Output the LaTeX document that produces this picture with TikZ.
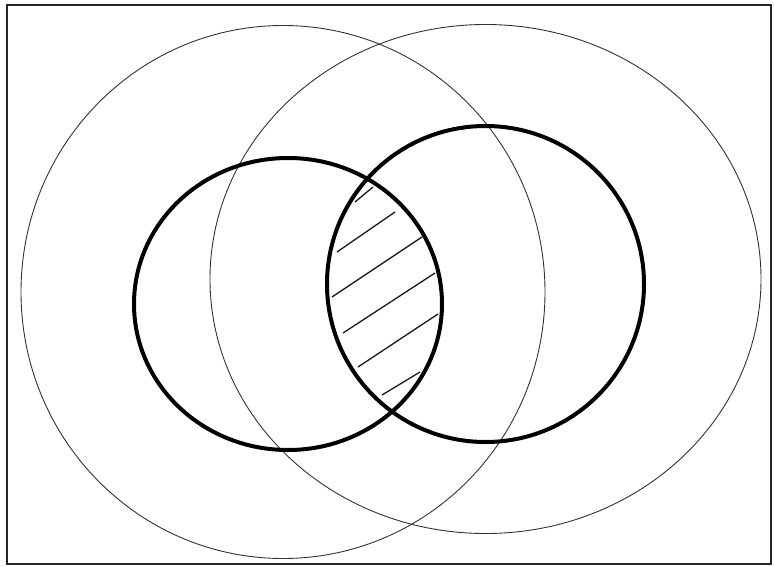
\documentclass[tikz,border=0pt]{standalone}
\begin{document}
\begin{tikzpicture}[x=1pt,y=-1pt,
  thinring/.style={draw=black!80,line width=0.9pt},
  thickring/.style={draw=black,line width=4pt},
  hatchline/.style={draw=black!90,line width=1.3pt},
  frame/.style={draw=black!85,line width=1.6pt}]
\useasboundingbox (0,0) rectangle (774,566);
\fill[white] (0,0) rectangle (774,566);
\draw[frame] (7,5) rectangle (771,564);
% large thin rings
\draw[thinring] (283,292) ellipse [x radius=262, y radius=266.5];
\draw[thinring] (485.5,279) ellipse [x radius=275.5, y radius=254.5];
% thick rings
\draw[thickring] (288,304) ellipse [x radius=154, y radius=146];
\draw[thickring] (485.5,284) ellipse [x radius=158.5, y radius=158];
% hatching in the overlap
\draw[hatchline] (355,202) -- (373,187);
\draw[hatchline] (337,252) -- (395,212);
\draw[hatchline] (332,297) -- (422,237);
\draw[hatchline] (343,333) -- (435,273);
\draw[hatchline] (358,367) -- (438,314);
\draw[hatchline] (382,395) -- (420,372);
\end{tikzpicture}
\end{document}
